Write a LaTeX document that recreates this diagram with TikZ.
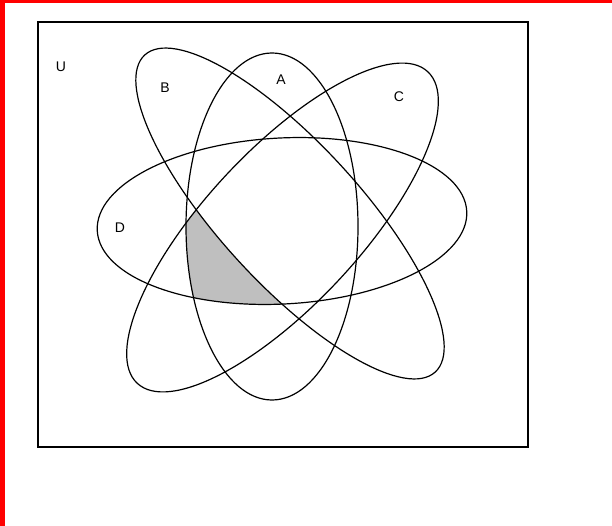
\documentclass[tikz,border=0pt]{standalone}
\usepackage{fontspec}
\setmainfont{Liberation Sans}
\begin{document}
\begin{tikzpicture}[x=1pt,y=-1pt,
  curve/.style={draw=black,line width=1.2pt},
  lbl/.style={font=\fontsize{14}{14}\selectfont,inner sep=0pt}]
\useasboundingbox (0,0) rectangle (612,526);
\fill[white] (0,0) rectangle (612,526);
% red frame
\fill[red] (0,0) rectangle (612,3);
\fill[red] (0,0) rectangle (5,526);
% universe
\draw[line width=1.2pt] (38,22) rectangle (528,447);
% shaded region: A and C and D, below-left of B
\begin{scope}
  \clip (0,0) rectangle (300,526);
  \clip (272,226.5) ellipse [x radius=86, y radius=173.5];
  \clip[rotate around={47:(282.5,227.5)}] (282.5,227.5) ellipse [x radius=213, y radius=77];
  \clip[rotate around={3:(282,221)}] (282,221) ellipse [x radius=185, y radius=83];
  \fill[gray!50,even odd rule] (0,0) rectangle (612,526)
    [rotate around={-47.5:(290,213.5)}] (290,213.5) ellipse [x radius=215, y radius=70];
\end{scope}
% A
\draw[curve] (272,226.5) ellipse [x radius=86, y radius=173.5];
% B
\draw[curve,rotate around={-47.5:(290,213.5)}] (290,213.5) ellipse [x radius=215, y radius=70];
% C
\draw[curve,rotate around={47:(282.5,227.5)}] (282.5,227.5) ellipse [x radius=213, y radius=77];
% D
\draw[curve,rotate around={3:(282,221)}] (282,221) ellipse [x radius=185, y radius=83];
% labels
\node[lbl] (u) at (61,67) {U};
\node[lbl] (b) at (165,88) {B};
\node[lbl] (a) at (281,80) {A};
\node[lbl] (c) at (399,97) {C};
\node[lbl] (d) at (120,228) {D};
\end{tikzpicture}
\end{document}
